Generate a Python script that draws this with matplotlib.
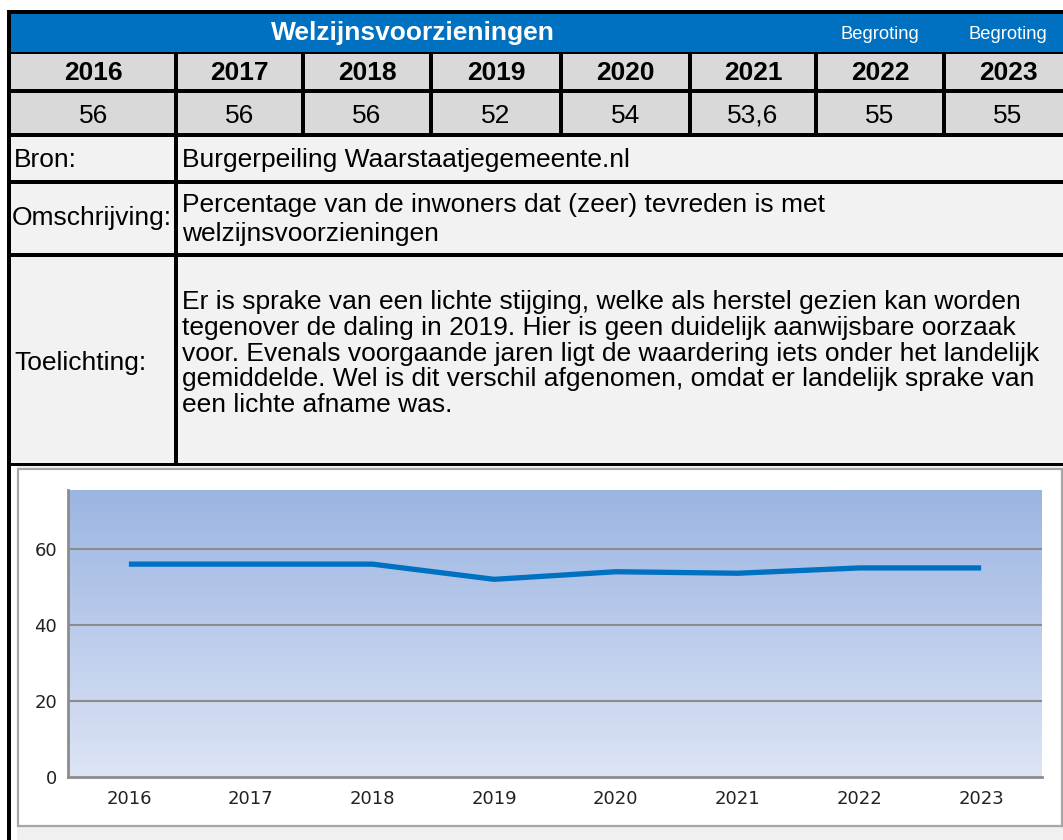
import matplotlib
matplotlib.use("Agg")
import matplotlib.pyplot as plt
from matplotlib.patches import Rectangle
from matplotlib.colors import LinearSegmentedColormap
import numpy as np

# ---- data ----
title = "Welzijnsvoorzieningen"
years = ["2016", "2017", "2018", "2019", "2020", "2021", "2022", "2023"]
values = [56, 56, 56, 52, 54, 53.6, 55, 55]
budget_years = ["2022", "2023"]
bron = "Burgerpeiling Waarstaatjegemeente.nl"
omschrijving = ["Percentage van de inwoners dat (zeer) tevreden is met",
                "welzijnsvoorzieningen"]
toelichting = [
    "Er is sprake van een lichte stijging, welke als herstel gezien kan worden",
    "tegenover de daling in 2019. Hier is geen duidelijk aanwijsbare oorzaak",
    "voor. Evenals voorgaande jaren ligt de waardering iets onder het landelijk",
    "gemiddelde. Wel is dit verschil afgenomen, omdat er landelijk sprake van",
    "een lichte afname was.",
]
y_ticks = [0, 20, 40, 60]

W, H = 1063, 840
fig = plt.figure(figsize=(W / 100, H / 100), dpi=100)
fig.patch.set_facecolor("white")
ax = fig.add_axes([0, 0, 1, 1])
ax.set_xlim(0, W)
ax.set_ylim(H, 0)
ax.axis("off")

FONT = "Liberation Sans"
BLUE = "#0070c0"
GRAY_HDR = "#d9d9d9"
GRAY_ROW = "#f2f2f2"

def rect(x0, y0, x1, y1, color, z=1):
    ax.add_patch(Rectangle((x0, y0), x1 - x0, y1 - y0, facecolor=color,
                           edgecolor="none", zorder=z))

# column edges (layout)
col_edges = [11, 176, 303, 431, 561, 690, 816, 944, 1072]

# background blocks
rect(11, 14, W, 52, BLUE)
rect(11, 52, W, 137, GRAY_HDR)
rect(11, 137, W, 463, GRAY_ROW)
rect(11, 466, W, H, "#f0f0f0")
# chart frame
ax.add_patch(Rectangle((17.5, 469), 1044, 357, facecolor="white",
                       edgecolor="#a6a6a6", linewidth=1.6, zorder=2))
rect(11, 466, 17, 840, "white", z=1.5)

# black borders
rect(7, 10, 11, H, "black", z=5)          # left border
rect(7, 10, W, 14, "black", z=5)          # top border
rect(11, 52, W, 54, "black", z=5)
for (y0, y1) in [(89, 93), (133, 137), (180, 184), (253, 257), (463, 466)]:
    rect(11, y0, W, y1, "black", z=5)
for xe in col_edges[1:-1]:
    rect(xe - 2, 54, xe + 2, 137, "black", z=5)
rect(174, 137, 178, 466, "black", z=5)

# title
ax.text(413, 40, title, color="white", fontsize=19, fontweight="bold",
        family=FONT, ha="center", va="baseline", zorder=6)

for i, yr in enumerate(years):
    cx = (col_edges[i] + col_edges[i + 1]) / 2
    ax.text(cx, 80, yr, fontsize=19, fontweight="bold", family=FONT,
            ha="center", va="baseline", zorder=6)
    lbl = f"{values[i]:g}".replace(".", ",")
    ax.text(cx, 123, lbl, fontsize=19, family=FONT,
            ha="center", va="baseline", zorder=6)
    if yr in budget_years:
        ax.text(cx, 39, "Begroting", color="white", fontsize=13.2,
                family=FONT, ha="center", va="baseline", zorder=6)

FS = 19
ax.text(14, 167, "Bron:", fontsize=FS, family=FONT, va="baseline", zorder=6)
ax.text(182, 167, bron, fontsize=FS, family=FONT, va="baseline", zorder=6)
ax.text(12, 225, "Omschrijving:", fontsize=FS, family=FONT, va="baseline", zorder=6)
for k, line in enumerate(omschrijving):
    ax.text(182, 212 + 29 * k, line, fontsize=FS, family=FONT,
            va="baseline", zorder=6)
ax.text(14, 370, "Toelichting:", fontsize=FS, family=FONT, va="baseline", zorder=6)
for k, line in enumerate(toelichting):
    ax.text(182, 309 + 25.8 * k, line, fontsize=FS, family=FONT,
            va="baseline", zorder=6)

# ---- chart ----
px0, px1, py0, py1 = 68, 1042, 490, 777
cax = fig.add_axes([px0 / W, (H - py1) / H, (px1 - px0) / W, (py1 - py0) / H])
cax.set_zorder(10)
x = np.arange(len(years))
cax.set_xlim(-0.5, len(years) - 0.5)
cax.set_ylim(0, 75.5)
grad = np.linspace(0, 1, 256).reshape(-1, 1)
cmap = LinearSegmentedColormap.from_list("g", ["#dde4f5", "#9bb5e2"])
cax.imshow(grad, aspect="auto", cmap=cmap, origin="lower",
           extent=(-0.5, len(years) - 0.5, 0, 75.5), zorder=0)
for t in y_ticks[1:]:
    cax.axhline(t, color="#8c8c8c", linewidth=1.5, zorder=1)
cax.plot(x, values, color=BLUE, linewidth=3.8, solid_capstyle="butt", zorder=3)
for s in ["top", "right"]:
    cax.spines[s].set_visible(False)
for s in ["left", "bottom"]:
    cax.spines[s].set_color("#8c8c8c")
    cax.spines[s].set_linewidth(2)
cax.set_xticks(x)
cax.set_xticklabels(years)
cax.set_yticks(y_ticks)
cax.tick_params(axis="both", length=0, labelsize=13, labelcolor="#222222")
cax.tick_params(axis="x", pad=9)
cax.tick_params(axis="y", pad=8)

fig.savefig("out.png", dpi=100, facecolor="white")
